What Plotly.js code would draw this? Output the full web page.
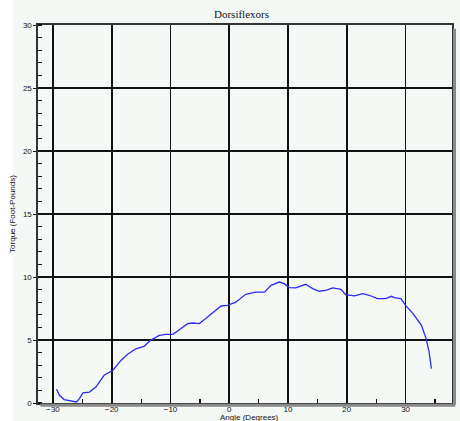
<!DOCTYPE html>
<html>
<head>
<meta charset="utf-8">
<script src="https://cdn.plot.ly/plotly-3.0.1.min.js"></script>
<style>html,body{margin:0;padding:0;background:#fff;}#chart{width:460px;height:421px;}</style>
</head>
<body>
<div id="chart"></div>
<script>
const angle = [-29.4,-28.9,-28.1,-26.9,-26.0,-25.5,-24.9,-23.8,-22.7,-21.3,-19.8,-18.4,-17.3,-15.9,-14.5,-13.4,-11.9,-10.8,-9.6,-8.5,-7.1,-6.2,-5.1,-4.0,-2.6,-1.4,-0.3,
  1.1,2.8,4.5,6.0,7.1,8.5,9.35,10.2,11.3,13.0,14.2,15.3,16.4,17.6,19.0,19.8,21.3,22.7,23.8,25.2,26.6,27.6,28.1,29.2,30.0,31.2,32.1,32.7,33.5,34.0,34.4];
const torque = [1.09,0.61,0.27,0.16,0.08,0.35,0.8,0.87,1.27,2.2,2.6,3.4,3.87,4.3,4.5,4.98,5.37,5.45,5.45,5.82,6.3,6.35,6.3,6.7,7.22,7.7,7.75,
  8.0,8.63,8.8,8.8,9.34,9.6,9.47,9.15,9.13,9.42,9.08,8.87,8.94,9.13,9.02,8.6,8.5,8.68,8.55,8.28,8.28,8.47,8.37,8.28,7.75,7.14,6.56,6.17,5.11,4.05,2.73];
const chartTitle = "Dorsiflexors";
const xTitle = "Angle (Degrees)";
const yTitle = "Torque (Foot-Pounds)";

const tickFont = {family: "Liberation Sans, Arial, sans-serif", size: 8, color: "#111"};
const data = [{
  x: angle, y: torque, type: "scatter", mode: "lines",
  line: {color: "#2b2bf5", width: 1.3}, hoverinfo: "skip"
}];
const layout = {
  width: 460, height: 421,
  margin: {l: 38, r: 8, t: 25, b: 18, pad: 0},
  paper_bgcolor: "#f5f9f6", plot_bgcolor: "#f5f9f6",
  showlegend: false,
  title: {text: chartTitle, x: 0.525, xanchor: "center", y: 0.975, yanchor: "top",
    font: {family: "Liberation Serif, Times New Roman, serif", size: 11, color: "#111"}},
  xaxis: {
    range: [-32.55, 37.9], tickvals: [-30,-20,-10,0,10,20,30],
    showgrid: true, gridcolor: "#111", gridwidth: 1.6,
    zeroline: false, showline: true, linecolor: "#333", linewidth: 1.6, mirror: true,
    ticks: "", tickfont: tickFont, ticklabelstandoff: -2,
    minor: {tickvals: [-25,-15,-5,5,15,25,35], ticks: "inside", ticklen: 4, tickcolor: "#111", tickwidth: 1.2, showgrid: false}
  },
  yaxis: {
    range: [0, 30], tickvals: [0,5,10,15,20,25,30],
    showgrid: true, gridcolor: "#111", gridwidth: 1.6,
    zeroline: false, showline: true, linecolor: "#333", linewidth: 1.6, mirror: true,
    ticks: "outside", ticklen: 3, tickcolor: "#111", tickfont: tickFont,
    minor: {dtick: 1, ticks: "inside", ticklen: 4, tickcolor: "#111", tickwidth: 1.2, showgrid: false},
    title: {text: yTitle, standoff: 6, font: {family: "Liberation Sans, Arial, sans-serif", size: 8, color: "#111"}}
  },
  annotations: [
    {text: xTitle, xref: "paper", yref: "paper", x: 0.512, y: -0.0225, xanchor: "center", yanchor: "top",
     showarrow: false, borderpad: 0, font: {family: "Liberation Sans, Arial, sans-serif", size: 8, color: "#111"}}
  ],
  shapes: [
    {type: "rect", xref: "paper", yref: "paper", x0: -0.092, x1: -0.06, y0: -0.06, y1: 1.07, fillcolor: "#ffffff", line: {width: 0}, layer: "below"},
    {type: "line", xref: "paper", yref: "paper", x0: 1.006, x1: 1.006, y0: -0.004, y1: 0.99, line: {color: "#888", width: 3}},
    {type: "line", xref: "paper", yref: "paper", x0: 0.006, x1: 1.008, y0: -0.006, y1: -0.006, line: {color: "#888", width: 3}}
  ]
};
Plotly.newPlot("chart", data, layout, {displayModeBar: false, staticPlot: true});
</script>
</body>
</html>
